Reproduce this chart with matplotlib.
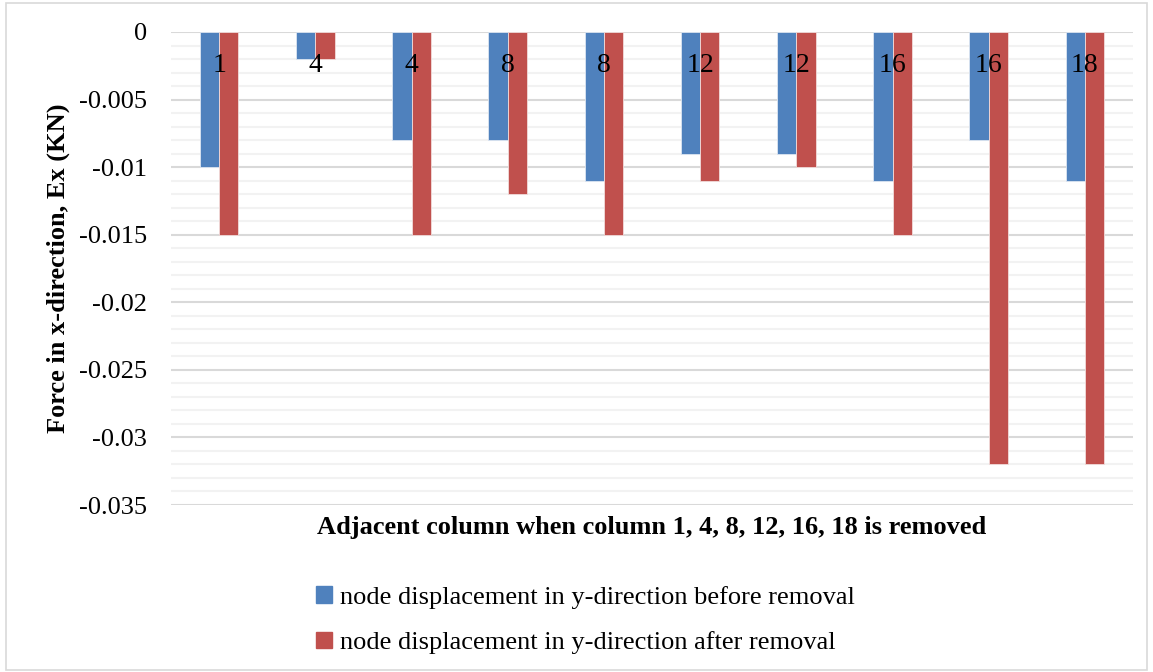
import matplotlib
matplotlib.use("Agg")
import matplotlib.pyplot as plt
import numpy as np
from matplotlib.patches import Rectangle, Patch
from matplotlib.ticker import MultipleLocator

categories = ["1", "4", "4", "8", "8", "12", "12", "16", "16", "18"]
before = [-0.010, -0.002, -0.008, -0.008, -0.011, -0.009, -0.009, -0.011, -0.008, -0.011]
after = [-0.015, -0.002, -0.015, -0.012, -0.015, -0.011, -0.010, -0.015, -0.032, -0.032]
yticks = [0, -0.005, -0.01, -0.015, -0.02, -0.025, -0.03, -0.035]
ytick_labels = ["0", "-0.005", "-0.01", "-0.015", "-0.02", "-0.025", "-0.03", "-0.035"]

plt.rcParams['font.family'] = ['Liberation Serif', 'DejaVu Serif']

fig = plt.figure(figsize=(11.53, 6.72), dpi=100)
W, H = 1153, 672
ax = fig.add_axes([171 / W, 1 - 505 / H, (1133 - 171) / W, (505 - 32) / H])

x = np.arange(len(categories))
bw = 0.2
ax.bar(x - bw / 2, before, bw, color="#4F81BD", edgecolor="#DCE6F2", linewidth=0.6, zorder=3,
       label="node displacement in y-direction before removal")
ax.bar(x + bw / 2, after, bw, color="#C0504D", edgecolor="#F2DCDB", linewidth=0.6, zorder=3,
       label="node displacement in y-direction after removal")

for xi, c in zip(x, categories):
    ax.text(xi, -0.00245, c, ha="center", va="center", fontsize=20, zorder=4)

ax.set_xlim(-0.5, len(categories) - 0.5)
ax.set_ylim(-0.035, 0)
ax.set_yticks(yticks)
ax.set_yticklabels(ytick_labels, fontsize=19)
ax.yaxis.set_minor_locator(MultipleLocator(0.001))
ax.set_xticks([])
ax.tick_params(axis="y", which="both", length=0, pad=17.5)
ax.grid(axis="y", which="major", color="#D9D9D9", linewidth=1.5, zorder=0)
ax.grid(axis="y", which="minor", color="#F2F2F2", linewidth=1.5, zorder=0)
for s in ax.spines.values():
    s.set_visible(False)

ax.set_ylabel("Force in x-direction, Ex (KN)", fontsize=19, fontweight="bold", labelpad=6)
ax.set_xlabel("Adjacent column when column 1, 4, 8, 12, 16, 18 is removed", fontsize=19,
              fontweight="bold", labelpad=8)

handles = [Patch(color="#4F81BD"), Patch(color="#C0504D")]
fig.legend(handles, ["node displacement in y-direction before removal",
                     "node displacement in y-direction after removal"],
           loc="center left", bbox_to_anchor=(303 / W, 1 - 620 / H), frameon=False,
           fontsize=19, handlelength=0.6, handleheight=0.6, handletextpad=0.3,
           labelspacing=0.85, borderpad=0)

fig.patches.append(Rectangle((6 / W, 2 / H), (1147 - 6) / W, (669 - 2) / H, transform=fig.transFigure,
                             fill=False, edgecolor="#D9D9D9", linewidth=1.2))

fig.savefig("out.png", dpi=100)
